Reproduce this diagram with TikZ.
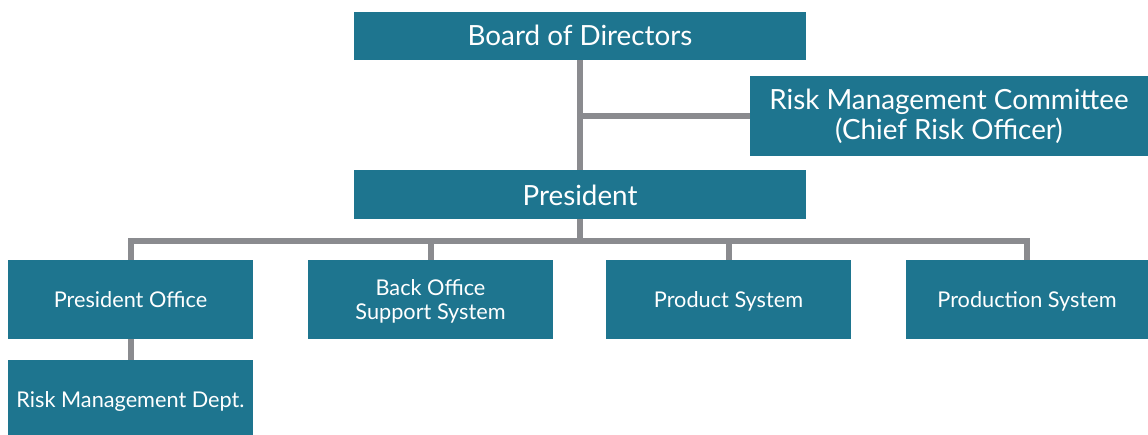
\documentclass[tikz,border=0pt]{standalone}
\usepackage{fontspec}
\setmainfont{Lato}
\definecolor{boxteal}{RGB}{30,117,143}
\definecolor{linkgrey}{RGB}{138,139,143}
\begin{document}
\begin{tikzpicture}[x=1pt,y=-1pt,
  unit/.style={fill=boxteal, text=white, inner sep=0pt, align=center,
    font=\fontsize{21.7}{24}\selectfont},
  oneline/.style={text height=17pt, text depth=0pt},
  bigunit/.style={unit, font=\fontsize{27.8}{30}\selectfont},
  link/.style={draw=linkgrey, line width=6pt}]
\useasboundingbox (0,0) rectangle (1148,435);
% top levels
\node[bigunit, text height=20pt, text depth=0pt, minimum width=452pt, minimum height=48pt] (board) at (580,36) {Board of Directors};
\node[bigunit, minimum width=398pt, minimum height=80pt] (rmc) at (949,116) {Risk Management Committee\\(Chief Risk Officer)};
\node[bigunit, text height=22pt, text depth=0pt, minimum width=452pt, minimum height=49pt] (pres) at (580,194.5) {President};
% divisions
\node[unit, oneline, minimum width=245pt, minimum height=79pt] (po) at (130.5,299.5) {President Office};
\node[unit, text depth=-1pt, minimum width=245pt, minimum height=79pt] (bo) at (430.5,299.5) {Back Office\\Support System};
\node[unit, oneline, minimum width=245pt, minimum height=79pt] (ps) at (728.5,299.5) {Product System};
\node[unit, oneline, minimum width=242pt, minimum height=79pt] (prod) at (1027,299.5) {Production System};
\node[unit, text height=19pt, text depth=0pt, minimum width=245pt, minimum height=75pt] (rmd) at (130.5,397.5) {Risk Management Dept.};
% connectors
\coordinate (busy) at (0,241);
\draw[link] (board.south) -- (pres.north);
\draw[link] (board.south |- rmc.west) -- (rmc.west);
\draw[link] (pres.south) -- (pres.south |- busy);
\draw[link, line join=miter] (po.north) -- (po.north |- busy) -- (prod.north |- busy) -- (prod.north);
\draw[link] (bo.north |- busy) -- (bo.north);
\draw[link] (ps.north |- busy) -- (ps.north);
\draw[link] (po.south) -- (rmd.north);
\end{tikzpicture}
\end{document}
